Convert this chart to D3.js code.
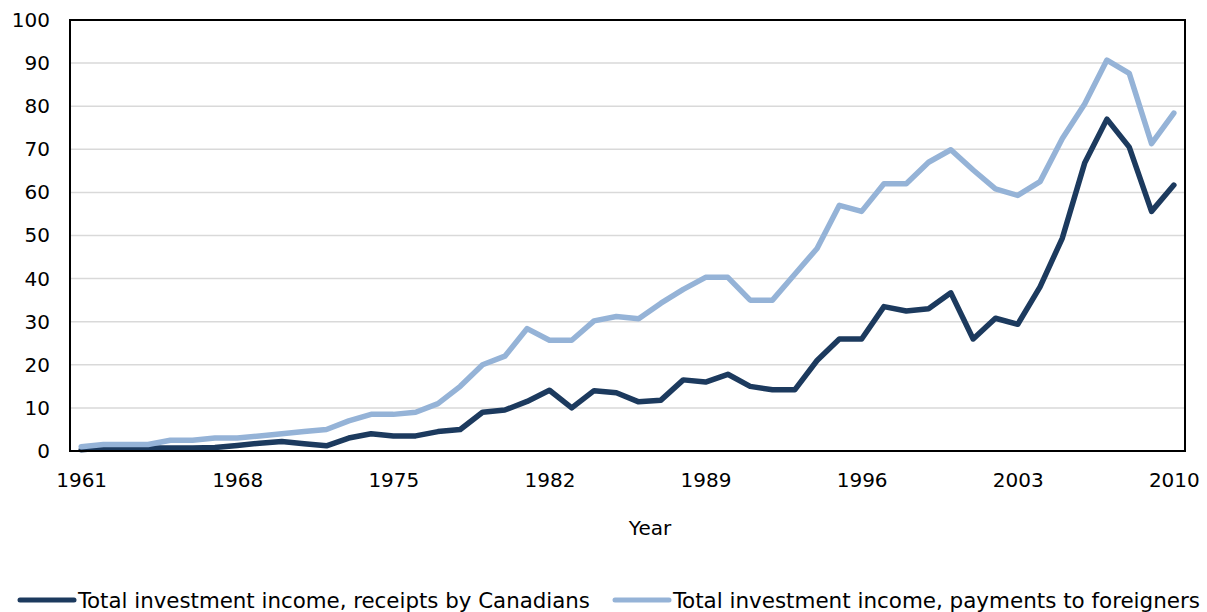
<!DOCTYPE html>
<html lang="en">
<head>
<meta charset="UTF-8">
<title>Total investment income</title>
<script src="https://d3js.org/d3.v7.min.js"></script>
<style>
  body { margin: 0; background: #fff; }
  text { font-family: "DejaVu Sans", Verdana, sans-serif; fill: #000; }
  .grid line { stroke: #d9d9d9; stroke-width: 1.5px; }
  .frame { fill: none; stroke: #000; stroke-width: 2px; }
  .series { fill: none; stroke-width: 5.5px; stroke-linejoin: round; stroke-linecap: round; }
</style>
</head>
<body>
<svg id="chart" width="1207" height="612"></svg>
<script>
// years on the category axis
var years = d3.range(1961, 2011);
var yTicks = [0, 10, 20, 30, 40, 50, 60, 70, 80, 90, 100];
var xTickYears = [1961, 1968, 1975, 1982, 1989, 1996, 2003, 2010];

// Total investment income, receipts by Canadians
var receipts = [0.3, 0.7, 0.7, 0.7, 0.7, 0.7, 0.8, 1.3, 1.8, 2.2,
                1.7, 1.2, 3.0, 4.0, 3.5, 3.5, 4.5, 5.0, 9.0, 9.5,
                11.5, 14.1, 10.0, 14.0, 13.5, 11.4, 11.8, 16.5, 16.0, 17.8,
                15.0, 14.2, 14.2, 21.0, 26.0, 26.0, 33.5, 32.5, 33.0, 36.7,
                26.0, 30.8, 29.4, 38.1, 49.4, 66.8, 77.0, 70.5, 55.6, 61.7];

// Total investment income, payments to foreigners
var payments = [1.0, 1.5, 1.5, 1.5, 2.5, 2.5, 3.0, 3.0, 3.5, 4.0,
                4.5, 5.0, 7.0, 8.5, 8.5, 9.0, 11.0, 15.0, 20.0, 22.0,
                28.4, 25.7, 25.7, 30.2, 31.2, 30.7, 34.3, 37.5, 40.3, 40.3,
                35.0, 35.0, 41.0, 47.0, 57.0, 55.6, 62.0, 62.0, 67.0, 69.9,
                65.2, 60.8, 59.3, 62.5, 72.5, 80.5, 90.7, 87.6, 71.3, 78.4];

var seriesNames = ["Total investment income, receipts by Canadians",
                   "Total investment income, payments to foreigners"];
var colors = ["#1c3a5e", "#95b3d7"];

var svg = d3.select("#chart");
var margin = {left: 70, right: 22, top: 20, bottom: 161};
var W = 1207, H = 612;

var x = d3.scalePoint()
    .domain(years)
    .range([margin.left, W - margin.right])
    .padding(0.5);

var y = d3.scaleLinear()
    .domain([0, 100])
    .range([H - margin.bottom, margin.top]);

// gridlines
svg.append("g")
    .attr("class", "grid")
    .selectAll("line")
    .data(yTicks.filter(function(d){ return d > 0 && d < 100; }))
    .enter().append("line")
    .attr("x1", margin.left)
    .attr("x2", W - margin.right)
    .attr("y1", function(d){ return y(d); })
    .attr("y2", function(d){ return y(d); });

// y axis labels
var yAxis = d3.axisLeft(y).tickValues(yTicks).tickSize(0).tickPadding(20);
svg.append("g")
    .attr("transform", "translate(" + margin.left + ",0)")
    .call(yAxis)
    .call(function(g){ g.select(".domain").remove(); })
    .selectAll("text")
    .style("font-size", "20px")
    .style("font-family", "'DejaVu Sans', Verdana, sans-serif");

// x axis labels
var xAxis = d3.axisBottom(x).tickValues(xTickYears).tickSize(0).tickPadding(22);
svg.append("g")
    .attr("transform", "translate(0," + (H - margin.bottom) + ")")
    .call(xAxis)
    .call(function(g){ g.select(".domain").remove(); })
    .selectAll("text")
    .style("font-size", "20px")
    .style("font-family", "'DejaVu Sans', Verdana, sans-serif");

// lines
var line = d3.line()
    .x(function(d, i){ return x(years[i]); })
    .y(function(d){ return y(d); });

[receipts, payments].forEach(function(data, i){
    svg.append("path")
        .attr("class", "series")
        .attr("stroke", colors[i])
        .attr("d", line(data));
});

// plot frame
svg.append("rect")
    .attr("class", "frame")
    .attr("x", margin.left)
    .attr("y", margin.top)
    .attr("width", W - margin.right - margin.left)
    .attr("height", H - margin.bottom - margin.top);

// axis title
svg.append("text")
    .attr("x", 650)
    .attr("y", 535)
    .attr("text-anchor", "middle")
    .style("font-size", "20px")
    .text("Year");

// legend
var legendX = [20, 615];
var legendWidths = [512, 527];
var legend = svg.append("g");
seriesNames.forEach(function(name, i){
    legend.append("line")
        .attr("x1", legendX[i])
        .attr("x2", legendX[i] + 54)
        .attr("y1", 600)
        .attr("y2", 600)
        .attr("stroke", colors[i])
        .attr("stroke-width", 5)
        .attr("stroke-linecap", "round");
    legend.append("text")
        .attr("x", legendX[i] + 58)
        .attr("y", 608)
        .attr("textLength", legendWidths[i])
        .attr("lengthAdjust", "spacingAndGlyphs")
        .style("font-size", "22px")
        .style("font-family", "'DejaVu Sans Condensed', 'DejaVu Sans', sans-serif")
        .text(name);
});
</script>
</body>
</html>
